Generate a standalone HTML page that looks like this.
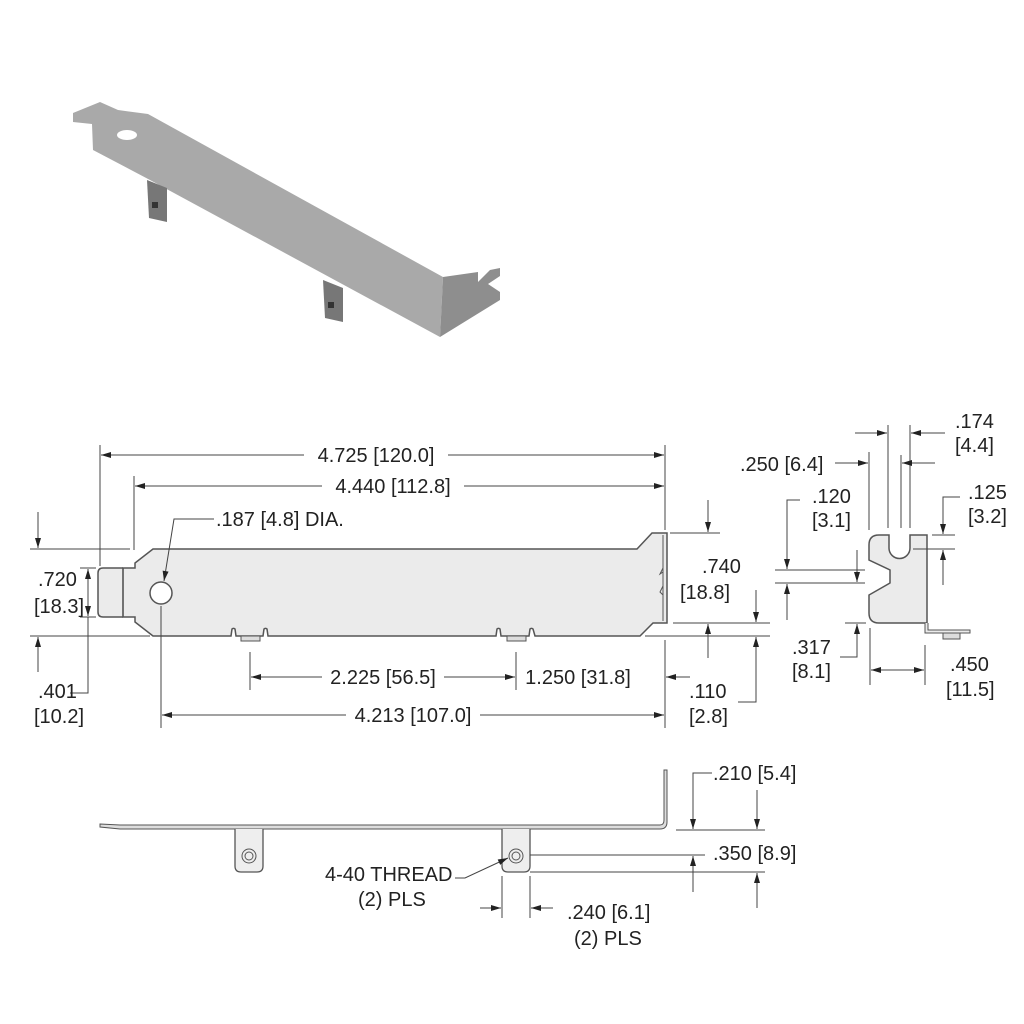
<!DOCTYPE html>
<html><head><meta charset="utf-8"><style>
html,body{margin:0;padding:0;background:#fff}
svg{display:block}
text{font-family:"Liberation Sans",sans-serif;font-size:20px;fill:#222}
</style></head><body>
<svg width="1024" height="1024" viewBox="0 0 1024 1024" xmlns="http://www.w3.org/2000/svg">
<defs>
<marker id="a" viewBox="0 0 10 6" refX="10" refY="3" markerWidth="11" markerHeight="6" markerUnits="userSpaceOnUse" orient="auto"><path d="M0,0 L10,3 L0,6 z" fill="#222"/></marker>
</defs>
<g>
<polygon points="73,113 100,102 118,110 148,114 443,277 440,337 150,180 93,150 92,124 73,122" fill="#a9a9a9"/>
<polygon points="443,277 478,272 478,282 490,270 500,268 500,276 488,284 500,292 500,300 440,337" fill="#8e8e8e"/>
<ellipse cx="127" cy="135" rx="10" ry="5" fill="#fff"/>
<polygon points="147,180 167,188 167,222 149,218" fill="#777"/>
<rect x="152" y="202" width="6" height="6" fill="#333"/>
<polygon points="323,280 343,288 343,322 325,318" fill="#777"/>
<rect x="328" y="302" width="6" height="6" fill="#333"/>
</g>
<g stroke="#444" stroke-width="1" fill="none">
<path d="M123,568 L103,568 Q98,568 98,573 L98,612 Q98,617 103,617 L123,617" fill="#ebebeb" stroke="#555" stroke-width="1.5"/>
<path d="M123,568 L135,568 L135,563 L153,549 L637,549 L652,533 L667,533 L667,623 L653,623 L640,636 L535,636 L533,629 A2,2 0 0 0 530,629 L529,636 L501,636 L500,629 A2,2 0 0 0 497,629 L496,636 L268,636 L267,629 A2,2 0 0 0 264,629 L263,636 L236,636 L235,629 A2,2 0 0 0 232,629 L231,636 L153,636 L135,622 L135,617 L123,617 Z" fill="#ebebeb" stroke="#555" stroke-width="1.5"/>
<line x1="123" y1="568" x2="123" y2="617" stroke="#555" stroke-width="1.2"/>
<line x1="663" y1="535" x2="663" y2="621" stroke="#555"/>
<path d="M663,568 l-3,6 l3,-2 M663,586 l-3,6 l3,3" stroke="#555"/>
<rect x="241" y="636" width="19" height="5" fill="#ddd" stroke="#555"/>
<rect x="507" y="636" width="19" height="5" fill="#ddd" stroke="#555"/>
<circle cx="161" cy="593" r="11" fill="#fff" stroke="#555" stroke-width="1.5"/>
<line x1="100" y1="445" x2="100" y2="566"/>
<line x1="665" y1="445" x2="665" y2="530"/>
<line x1="134" y1="476" x2="134" y2="550"/>
<line x1="30" y1="549" x2="130" y2="549"/>
<line x1="80" y1="568" x2="96" y2="568"/>
<line x1="80" y1="617" x2="96" y2="617"/>
<line x1="30" y1="636" x2="150" y2="636"/>
<line x1="670" y1="533" x2="720" y2="533"/>
<line x1="673" y1="623" x2="770" y2="623"/>
<line x1="645" y1="636" x2="770" y2="636"/>
<line x1="250" y1="652" x2="250" y2="690"/>
<line x1="516" y1="652" x2="516" y2="690"/>
<line x1="161" y1="606" x2="161" y2="728"/>
<line x1="665" y1="640" x2="665" y2="728"/>
<line x1="304" y1="455" x2="101" y2="455" marker-end="url(#a)"/>
<line x1="448" y1="455" x2="664" y2="455" marker-end="url(#a)"/>
<line x1="322" y1="486" x2="135" y2="486" marker-end="url(#a)"/>
<line x1="464" y1="486" x2="664" y2="486" marker-end="url(#a)"/>
<polyline points="214,519 174,519 164,581" marker-end="url(#a)"/>
<line x1="38" y1="512" x2="38" y2="548" marker-end="url(#a)"/>
<line x1="38" y1="672" x2="38" y2="637" marker-end="url(#a)"/>
<line x1="88" y1="592" x2="88" y2="569" marker-end="url(#a)"/>
<line x1="88" y1="592" x2="88" y2="616" marker-end="url(#a)"/>
<polyline points="70,693 88,693 88,617"/>
<line x1="708" y1="500" x2="708" y2="532" marker-end="url(#a)"/>
<line x1="708" y1="658" x2="708" y2="624" marker-end="url(#a)"/>
<line x1="756" y1="590" x2="756" y2="622" marker-end="url(#a)"/>
<polyline points="738,702 756,702 756,637" marker-end="url(#a)"/>
<line x1="322" y1="677" x2="251" y2="677" marker-end="url(#a)"/>
<line x1="444" y1="677" x2="515" y2="677" marker-end="url(#a)"/>
<line x1="690" y1="677" x2="666" y2="677" marker-end="url(#a)"/>
<line x1="346" y1="715" x2="162" y2="715" marker-end="url(#a)"/>
<line x1="480" y1="715" x2="664" y2="715" marker-end="url(#a)"/>
<path d="M869,545 Q869,535 879,535 L889,535 L889,548 A10.5,10.5 0 0 0 910,548 L910,535 L927,535 L927,623 L879,623 Q869,623 869,613 L869,595 L890,583 L890,570 L869,560 Z" fill="#ebebeb" stroke="#555" stroke-width="1.5"/>
<path d="M925,623 L925,633 L970,633 L970,630 L928,630 L928,623" fill="#ebebeb" stroke="#555"/>
<rect x="943" y="633" width="17" height="6" fill="#ddd" stroke="#555"/>
<line x1="888" y1="425" x2="888" y2="528"/>
<line x1="910" y1="425" x2="910" y2="528"/>
<line x1="869" y1="452" x2="869" y2="530"/>
<line x1="901" y1="455" x2="901" y2="528"/>
<line x1="855" y1="433" x2="887" y2="433" marker-end="url(#a)"/>
<line x1="945" y1="433" x2="911" y2="433" marker-end="url(#a)"/>
<line x1="835" y1="463" x2="868" y2="463" marker-end="url(#a)"/>
<line x1="935" y1="463" x2="902" y2="463" marker-end="url(#a)"/>
<line x1="775" y1="570" x2="865" y2="570"/>
<line x1="775" y1="583" x2="865" y2="583"/>
<polyline points="800,500 787,500 787,569" marker-end="url(#a)"/>
<line x1="787" y1="620" x2="787" y2="584" marker-end="url(#a)"/>
<line x1="857" y1="550" x2="857" y2="582" marker-end="url(#a)"/>
<line x1="932" y1="535" x2="955" y2="535"/>
<line x1="913" y1="549" x2="955" y2="549"/>
<polyline points="960,497 943,497 943,534" marker-end="url(#a)"/>
<line x1="943" y1="585" x2="943" y2="550" marker-end="url(#a)"/>
<line x1="845" y1="623" x2="866" y2="623"/>
<polyline points="840,657 857,657 857,624" marker-end="url(#a)"/>
<line x1="870" y1="628" x2="870" y2="685"/>
<line x1="925" y1="645" x2="925" y2="685"/>
<line x1="897" y1="670" x2="871" y2="670" marker-end="url(#a)"/>
<line x1="897" y1="670" x2="924" y2="670" marker-end="url(#a)"/>
<path d="M100,824 L120,825 L660,825 Q664,825 664,820 L664,770 L667,770 L667,822 Q667,829 660,829 L120,829 L100,827 Z" fill="#ddd" stroke="#555"/>
<path d="M235,829 L235,866 Q235,872 241,872 L257,872 Q263,872 263,866 L263,829" fill="#eee" stroke="#555" stroke-width="1.3"/>
<circle cx="249" cy="856" r="7" stroke="#555"/><circle cx="249" cy="856" r="4" stroke="#555"/>
<path d="M502,829 L502,866 Q502,872 508,872 L524,872 Q530,872 530,866 L530,829" fill="#eee" stroke="#555" stroke-width="1.3"/>
<circle cx="516" cy="856" r="7" stroke="#555"/><circle cx="516" cy="856" r="4" stroke="#555"/>
<line x1="676" y1="830" x2="765" y2="830"/>
<line x1="530" y1="855" x2="705" y2="855"/>
<line x1="530" y1="872" x2="765" y2="872"/>
<polyline points="712,773 693,773 693,829" marker-end="url(#a)"/>
<line x1="757" y1="790" x2="757" y2="829" marker-end="url(#a)"/>
<line x1="693" y1="892" x2="693" y2="856" marker-end="url(#a)"/>
<line x1="757" y1="908" x2="757" y2="873" marker-end="url(#a)"/>
<polyline points="455,878 465,878 508,858" marker-end="url(#a)"/>
<line x1="502" y1="876" x2="502" y2="918"/>
<line x1="530" y1="876" x2="530" y2="918"/>
<line x1="480" y1="908" x2="501" y2="908" marker-end="url(#a)"/>
<line x1="553" y1="908" x2="531" y2="908" marker-end="url(#a)"/>
</g>
<g>
<text x="376" y="462" text-anchor="middle">4.725 [120.0]</text>
<text x="393" y="493" text-anchor="middle">4.440 [112.8]</text>
<text x="216" y="526">.187 [4.8] DIA.</text>
<text x="38" y="586">.720</text>
<text x="34" y="613">[18.3]</text>
<text x="38" y="698">.401</text>
<text x="34" y="723">[10.2]</text>
<text x="702" y="573">.740</text>
<text x="680" y="599">[18.8]</text>
<text x="689" y="698">.110</text>
<text x="689" y="723">[2.8]</text>
<text x="383" y="684" text-anchor="middle">2.225 [56.5]</text>
<text x="578" y="684" text-anchor="middle">1.250 [31.8]</text>
<text x="413" y="722" text-anchor="middle">4.213 [107.0]</text>
<text x="955" y="428">.174</text>
<text x="955" y="452">[4.4]</text>
<text x="740" y="471">.250 [6.4]</text>
<text x="812" y="503">.120</text>
<text x="812" y="527">[3.1]</text>
<text x="968" y="499">.125</text>
<text x="968" y="523">[3.2]</text>
<text x="792" y="654">.317</text>
<text x="792" y="678">[8.1]</text>
<text x="950" y="671">.450</text>
<text x="946" y="696">[11.5]</text>
<text x="713" y="780">.210 [5.4]</text>
<text x="713" y="860">.350 [8.9]</text>
<text x="325" y="881">4-40 THREAD</text>
<text x="358" y="906">(2) PLS</text>
<text x="567" y="919">.240 [6.1]</text>
<text x="574" y="945">(2) PLS</text>
</g>
</svg>
</body></html>
